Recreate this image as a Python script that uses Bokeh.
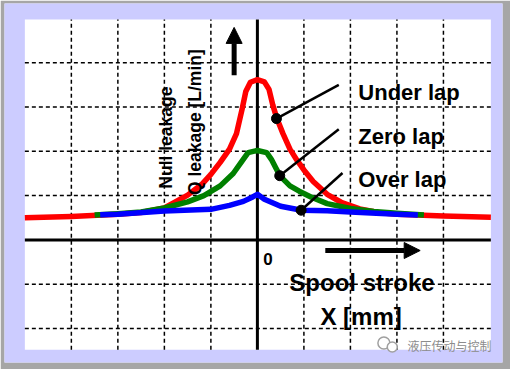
from bokeh.plotting import figure
from bokeh.models import Arrow, NormalHead
from bokeh.embed import file_html
from bokeh.resources import INLINE
from bokeh.core.properties import value
import math

# ---- data (x in grid units of spool stroke, y in grid units of leakage)
red_x = [-5.0, -4.0, -3.0, -2.5, -2.0, -1.5, -1.2, -1.0, -0.8, -0.6, -0.45, -0.33, -0.25, -0.15, 0.0,
         0.15, 0.25, 0.33, 0.42, 0.55, 0.7, 0.85, 1.0, 1.2, 1.5, 1.8, 2.2, 2.6, 3.0, 4.0, 5.02]
red_y = [0.50, 0.53, 0.58, 0.62, 0.72, 1.01, 1.25, 1.48, 1.75, 2.05, 2.40, 2.95, 3.35, 3.56, 3.62,
         3.57, 3.40, 3.05, 2.74, 2.40, 2.05, 1.80, 1.58, 1.32, 1.03, 0.85, 0.70, 0.62, 0.58, 0.54, 0.51]

green_x = [-3.5, -3.0, -2.5, -2.0, -1.5, -1.15, -0.8, -0.52, -0.35, -0.2, 0.0, 0.2, 0.3, 0.4, 0.49,
           0.7, 0.9, 1.15, 1.5, 2.0, 2.5, 3.0, 3.58]
green_y = [0.56, 0.59, 0.63, 0.72, 0.86, 1.00, 1.22, 1.50, 1.75, 1.97, 2.02, 1.97, 1.82, 1.62, 1.44,
           1.22, 1.10, 0.97, 0.82, 0.71, 0.64, 0.60, 0.56]

blue_x = [-3.38, -3.0, -2.0, -1.0, -0.6, -0.3, -0.1, 0.0, 0.15, 0.5, 0.95, 1.5, 2.0, 3.0, 3.45]
blue_y = [0.57, 0.58, 0.65, 0.69, 0.78, 0.87, 0.97, 1.03, 0.92, 0.76, 0.67, 0.66, 0.63, 0.58, 0.56]

series_names = ["Under lap", "Zero lap", "Over lap"]
series_colors = ["#ff0000", "#008000", "#0000ff"]
x_grid_ticks = [-4, -3, -2, -1, 1, 2, 3, 4]
y_grid_ticks = [-2, -1, 1, 2, 3, 4]
y_title_1 = "Null leakage"
y_title_2 = "Q leakage [L/min]"
x_title_1 = "Spool stroke"
x_title_2 = "X [mm]"
origin_label = "0"
watermark = "液压传动与控制"

# plotting area (white) limits in data units
X0, X1 = -5.0, 5.02
Y0, Y1 = -2.48, 4.98

W, H = 510, 369
p = figure(width=W, height=H, x_range=(-5.4375, 5.27), y_range=(-2.77, 5.34),
           output_backend="svg", toolbar_location=None,
           x_axis_location=None, y_axis_location=None,
           min_border_left=4, min_border_right=8, min_border_top=3, min_border_bottom=7)
p.border_fill_color = "#a6a6a6"
p.background_fill_color = "#ccccff"
p.outline_line_color = None
p.xgrid.visible = False
p.ygrid.visible = False

# white chart area
p.quad(left=[X0], right=[X1], bottom=[Y0], top=[Y1], fill_color="white", line_color=None)

# dashed grid
p.segment(x0=x_grid_ticks, y0=[Y0] * len(x_grid_ticks), x1=x_grid_ticks, y1=[Y1] * len(x_grid_ticks),
          line_color="black", line_width=1.5, line_dash="4 3")
p.segment(x0=[X0] * len(y_grid_ticks), y0=y_grid_ticks, x1=[X1] * len(y_grid_ticks), y1=y_grid_ticks,
          line_color="black", line_width=1.5, line_dash="4 3")

# zero axes
p.segment(x0=[0, X0], y0=[Y0, 0], x1=[0, X1], y1=[Y1, 0], line_color="black", line_width=3)

for xs, ys, c in zip([red_x, green_x, blue_x], [red_y, green_y, blue_y], series_colors):
    p.line(xs, ys, line_color=c, line_width=5.5, line_join="round")

# callouts
dot_x = [0.41, 0.48, 0.94]
dot_y = [2.74, 1.45, 0.67]
end_x = [1.75, 1.75, 1.83]
end_y = [3.50, 2.50, 1.51]
p.segment(x0=dot_x, y0=dot_y, x1=end_x, y1=end_y, line_color="black", line_width=2.5)
p.scatter(dot_x, dot_y, size=10, color="black")

font = value("Liberation Sans")
p.text(x=[2.17, 2.17, 2.17], y=[3.33, 2.34, 1.37], text=series_names, text_font=font,
       text_font_style="bold", text_font_size="22px", text_color="black",
       text_baseline="alphabetic", text_align="left")

p.text(x=[2.25, 2.23], y=[-0.97, -1.73], text=[x_title_1, x_title_2], text_font=font,
       text_font_style="bold", text_font_size="24px", text_color="black",
       text_baseline="alphabetic", text_align="center")

p.text(x=[0.23], y=[-0.43], text=[origin_label], text_font=font, text_font_style="bold",
       text_font_size="17px", text_baseline="alphabetic", text_align="center")

p.text(x=[-1.97, -1.35], y=[2.31, 2.66], text=[y_title_1, y_title_2], text_font=font,
       text_font_style="bold", text_font_size="17.5px", angle=math.pi / 2,
       text_baseline="alphabetic", text_align="center")

p.add_layout(Arrow(end=NormalHead(size=16, fill_color="black", line_color="black"),
                   x_start=-0.5, y_start=3.72, x_end=-0.5, y_end=4.8,
                   line_width=5, line_color="black"))
p.add_layout(Arrow(end=NormalHead(size=16, fill_color="black", line_color="black"),
                   x_start=1.46, y_start=-0.24, x_end=3.5, y_end=-0.24,
                   line_width=5, line_color="black"))

# watermark
p.scatter([2.72, 2.9], [-2.33, -2.42], size=[12, 10], fill_color="white",
          line_color="#a0a0a0", line_width=1.5)
p.text(x=[3.23], y=[-2.38], text=[watermark], text_font=value("Noto Sans CJK SC"),
       text_font_size="12px", text_color="#8c8c8c", text_baseline="middle",
       text_align="left")

open("out.html", "w").write(file_html(p, INLINE))
